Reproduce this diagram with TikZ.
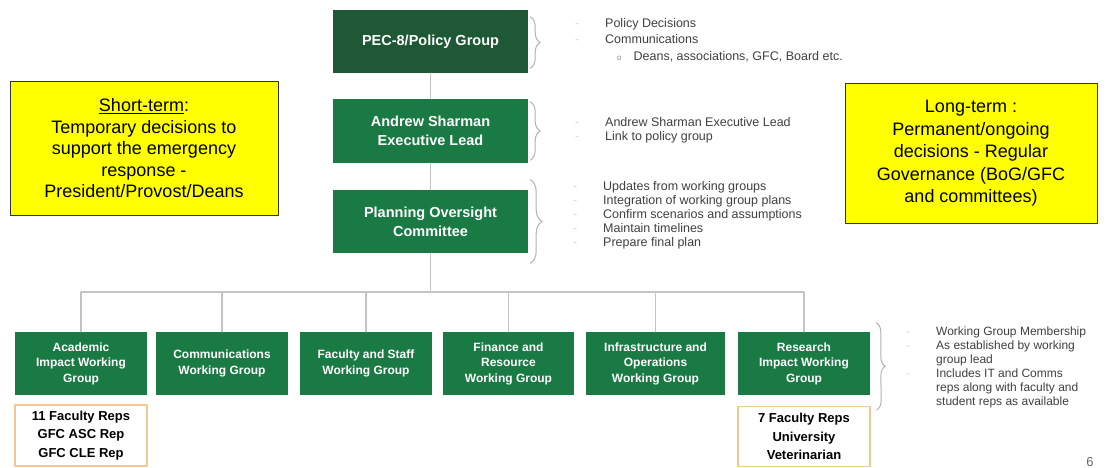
\documentclass[tikz,border=0pt]{standalone}
\usepackage{fontspec}
\setmainfont{Liberation Sans}
\usetikzlibrary{positioning,calc,decorations.pathreplacing}
\definecolor{pecgreen}{RGB}{30,88,52}
\definecolor{wggreen}{RGB}{26,122,68}
\definecolor{repsline}{RGB}{242,200,140}
\definecolor{noteyellow}{RGB}{255,255,0}
\definecolor{linkgray}{RGB}{196,196,196}
\newcommand{\faintdash}{\makebox[0pt][r]{\textcolor{black!15}{-}\hspace{26pt}}}
\tikzset{
  topbox/.style={fill=wggreen, text=white, inner sep=0, align=center,
    minimum width=195, minimum height=63, font=\fontsize{14.5}{19}\selectfont\bfseries},
  groupbox/.style={fill=wggreen, text=white, inner sep=0, align=center,
    minimum width=132, minimum height=63, font=\fontsize{12}{15.5}\selectfont\bfseries},
  repsbox/.style={draw=repsline, line width=1.2, fill=white, inner sep=0, align=center,
    minimum width=132, minimum height=60, font=\fontsize{13}{18.5}\selectfont\bfseries},
  notebox/.style={draw=black!80, line width=1, fill=noteyellow, inner sep=0, align=center},
  listtext/.style={anchor=west, inner sep=0, align=left, text=black!75},
  link/.style={draw=linkgray, line width=1.3},
  bracegray/.style={draw=black!30, line width=1, decorate, decoration={brace, amplitude=#1}},
}
\begin{document}
\begin{tikzpicture}[x=1pt, y=-1pt, line join=round, line cap=round]
  \fill[white] (0,0) rectangle (1106,468);
  \useasboundingbox (0,0) rectangle (1106,468);

  % governance column
  \node[topbox, fill=pecgreen] (pec) at (430.5,41.5) {PEC-8/Policy Group};
  \node[topbox, minimum height=64] (lead) at (430.5,131) {Andrew Sharman\\Executive Lead};
  \node[topbox] (poc) at (430.5,221.5) {Planning Oversight\\Committee};

  % working groups
  \node[groupbox] (wg1) at (81,363.5) {Academic\\Impact Working\\Group};
  \node[groupbox] (wg2) at (222,363.5) {Communications\\Working Group};
  \node[groupbox] (wg3) at (366,363.5) {Faculty and Staff\\Working Group};
  \node[groupbox, minimum width=131] (wg4) at (508.5,363.5) {Finance and\\Resource\\Working Group};
  \node[groupbox, minimum width=139] (wg5) at (655.5,363.5) {Infrastructure and\\Operations\\Working Group};
  \node[groupbox] (wg6) at (804,363.5) {Research\\Impact Working\\Group};

  \node[repsbox, minimum height=61] (reps1) at (81,435.5) {11 Faculty Reps\\GFC ASC Rep\\GFC CLE Rep};
  \node[repsbox] (reps2) at (804,436.5) {7 Faculty Reps\\University\\Veterinarian};

  % connectors
  \coordinate (busL) at (81,292);
  \coordinate (busR) at (804,292);
  \draw[link] (pec.south) -- (lead.north);
  \draw[link] (lead.south) -- (poc.north);
  \draw[link] (poc.south) -- (poc.south |- busL);
  \draw[link] (busL) -- (busR);
  \foreach \g in {1,...,6}
    \draw[link] (wg\g.north) -- (wg\g.north |- busL);

  % braces
  \draw[bracegray=10] ($(pec.north east)+(2,7)$) -- ($(pec.south east)+(2,-5)$);
  \draw[bracegray=10] ($(lead.north east)+(2,3)$) -- ($(lead.south east)+(2,-3)$);
  \draw[bracegray=12] ($(poc.north east)+(2,-10)$) -- ($(poc.south east)+(2,10)$);
  \draw[bracegray=9] ($(wg6.north east)+(6,-9)$) -- ($(reps2.north east)+(6,4)$);

  % notes
  \node[listtext, font=\fontsize{12.5}{16.5}\selectfont] (pnotes) at (605,40)
    {\faintdash Policy Decisions\\
     \faintdash Communications\\
     \hspace*{12pt}{\textcolor{black!45}{\fontsize{8}{8}\selectfont o}}\hspace*{12pt}Deans, associations, GFC, Board etc.};
  \node[listtext, font=\fontsize{12.5}{14}\selectfont] (lnotes) at (605,130)
    {\faintdash Andrew Sharman Executive Lead\\
     \faintdash Link to policy group};
  \node[listtext, font=\fontsize{12.5}{14}\selectfont] (cnotes) at (603,215)
    {\faintdash Updates from working groups\\
     \faintdash Integration of working group plans\\
     \faintdash Confirm scenarios and assumptions\\
     \faintdash Maintain timelines\\
     \faintdash Prepare final plan};
  \node[listtext, font=\fontsize{12}{14}\selectfont] (wnotes) at (936,367.5)
    {\faintdash Working Group Membership\\
     \faintdash As established by working\\
     group lead\\
     \faintdash Includes IT and Comms\\
     reps along with faculty and\\
     student reps as available};

  % term boxes
  \node[notebox, minimum width=268, minimum height=133, font=\fontsize{18}{21.5}\selectfont] (short) at (144,148.5)
    {\underline{Short-term}:\\Temporary decisions to\\support the emergency\\response -\\President/Provost/Deans};
  \node[notebox, minimum width=252, minimum height=139, font=\fontsize{18}{22.5}\selectfont] (long) at (971,153.5)
    {Long-term :\\Permanent/ongoing\\decisions - Regular\\Governance (BoG/GFC\\and committees)};

  \node[text=black!60, font=\fontsize{13}{13}\selectfont] (page) at (1090,462) {6};
\end{tikzpicture}
\end{document}
